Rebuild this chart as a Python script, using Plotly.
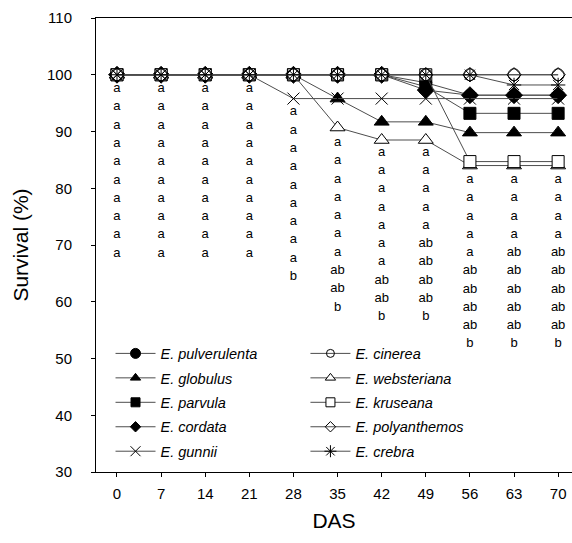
import plotly.graph_objects as go

# Days after sowing (DAS)
days = [0, 7, 14, 21, 28, 35, 42, 49, 56, 63, 70]

# Survival (%) per species
pulverulenta = [100, 100, 100, 100, 100, 100, 100, 98.6, 96.4, 96.4, 96.4]
globulus = [100, 100, 100, 100, 100, 95.8, 91.7, 91.7, 89.8, 89.8, 89.8]
parvula = [100, 100, 100, 100, 100, 100, 100, 97.9, 93.2, 93.2, 93.2]
cordata = [100, 100, 100, 100, 100, 100, 100, 97.3, 96.4, 96.4, 96.4]
websteriana = [100, 100, 100, 100, 100, 90.7, 88.5, 88.5, 84.0, 84.0, 84.0]
kruseana = [100, 100, 100, 100, 100, 100, 100, 100, 84.7, 84.7, 84.7]
cinerea = [100, 100, 100, 100, 100, 100, 100, 100, 100, 100, 100]
polyanthemos = [100, 100, 100, 100, 100, 100, 100, 100, 100, 100, 100]
gunnii = [100, 100, 100, 100, 95.8, 95.8, 95.8, 95.8, 95.8, 95.8, 95.8]
crebra = [100, 100, 100, 100, 100, 100, 100, 100, 100, 98.2, 98.2]

# Significance letters listed under each sampling day
letters = {
    0: ["a"] * 10,
    7: ["a"] * 10,
    14: ["a"] * 10,
    21: ["a"] * 10,
    28: ["a"] * 9 + ["b"],
    35: ["a"] * 7 + ["ab"] * 2 + ["b"],
    42: ["a"] * 7 + ["ab"] * 2 + ["b"],
    49: ["a"] * 5 + ["ab"] * 4 + ["b"],
    56: ["a"] * 5 + ["ab"] * 4 + ["b"],
    63: ["a"] * 4 + ["ab"] * 5 + ["b"],
    70: ["a"] * 4 + ["ab"] * 5 + ["b"],
}
# vertical placement of each letter column (top entry, spacing) in axis units
letter_top = {0: 97.5, 7: 97.5, 14: 97.5, 21: 97.5, 28: 93.4, 35: 88.0,
              42: 86.3, 49: 86.3, 56: 81.5, 63: 81.5, 70: 81.5}
letter_step = 3.22

LINE = "#4d4d4d"
FONT = "Liberation Sans, Arial, sans-serif"

# name, values, symbol, fill, plot size, legend size, legend column
series = [
    ("E. pulverulenta", pulverulenta, "circle", "black", 12, 10, "legend"),
    ("E. globulus", globulus, "triangle-up", "black", 13, 9, "legend"),
    ("E. parvula", parvula, "square", "black", 12, 9, "legend"),
    ("E. cordata", cordata, "diamond", "black", 13, 8, "legend"),
    ("E. websteriana", websteriana, "triangle-up", "white", 13, 9, "legend2"),
    ("E. kruseana", kruseana, "square", "white", 12, 9, "legend2"),
    ("E. cinerea", cinerea, "circle-open", "black", 12, 8, "legend2"),
    ("E. polyanthemos", polyanthemos, "diamond-open", "black", 11, 8, "legend2"),
    ("E. gunnii", gunnii, "x-thin-open", "black", 12, 10, "legend"),
    ("E. crebra", crebra, "asterisk-open", "black", 12, 10, "legend2"),
]
legend_order = ["E. pulverulenta", "E. globulus", "E. parvula", "E. cordata", "E. gunnii",
                "E. cinerea", "E. websteriana", "E. kruseana", "E. polyanthemos", "E. crebra"]

fig = go.Figure()

for name, vals, sym, fill, size, lsize, leg in series:
    fig.add_trace(go.Scatter(
        x=days, y=vals, mode="lines+markers", showlegend=False,
        line=dict(color=LINE, width=1),
        marker=dict(symbol=sym, size=size, color=fill,
                    line=dict(color="black", width=1)),
        hoverinfo="x+y", name=name,
    ))

# legend entries with smaller symbols, two columns
lookup = {s[0]: s for s in series}
for name in legend_order:
    _, vals, sym, fill, size, lsize, leg = lookup[name]
    fig.add_trace(go.Scatter(
        x=[None], y=[None], mode="lines+markers", name="<i>" + name + "</i>",
        legend=leg, legendgroup=name,
        line=dict(color=LINE, width=1),
        marker=dict(symbol=sym, size=lsize, color=fill,
                    line=dict(color="black", width=1)),
    ))

# letter columns
lx, ly, lt = [], [], []
for d in days:
    for i, s in enumerate(letters[d]):
        lx.append(d)
        ly.append(letter_top[d] - i * letter_step)
        lt.append(s)
fig.add_trace(go.Scatter(
    x=lx, y=ly, text=lt, mode="text", showlegend=False, hoverinfo="skip",
    textfont=dict(family=FONT, size=13, color="black"),
    textposition="middle center",
))

legend_style = dict(
    orientation="v", yanchor="top", xanchor="left", y=0.2963,
    itemwidth=40, traceorder="grouped", tracegroupgap=2.6,
    font=dict(family=FONT, size=14.5, color="black"),
    bgcolor="rgba(0,0,0,0)",
)

fig.update_layout(
    width=572, height=543,
    margin=dict(l=96, r=0, t=18, b=71),
    paper_bgcolor="white", plot_bgcolor="white",
    font=dict(family=FONT, color="black"),
    legend=dict(x=0.0305, **legend_style),
    legend2=dict(x=0.440, **legend_style),
)

fig.update_xaxes(
    range=[-3.33, 72.2], tickvals=days, ticktext=[str(d) for d in days],
    showline=True, linecolor="black", linewidth=1, mirror=True,
    ticks="outside", ticklen=4, tickcolor="black",
    showgrid=False, zeroline=False,
    tickfont=dict(size=15, family=FONT), ticklabelstandoff=4,
    title=dict(text="DAS", font=dict(size=21, family=FONT), standoff=12),
)
fig.update_yaxes(
    range=[30, 110], tickvals=[30, 40, 50, 60, 70, 80, 90, 100, 110],
    showline=True, linecolor="black", linewidth=1, mirror=False,
    ticks="outside", ticklen=4, tickcolor="black",
    showgrid=False, zeroline=False,
    tickfont=dict(size=15, family=FONT), ticklabelstandoff=16,
    title=dict(text="Survival (%)", font=dict(size=21, family=FONT), standoff=12),
)

fig.write_html("out.html")
